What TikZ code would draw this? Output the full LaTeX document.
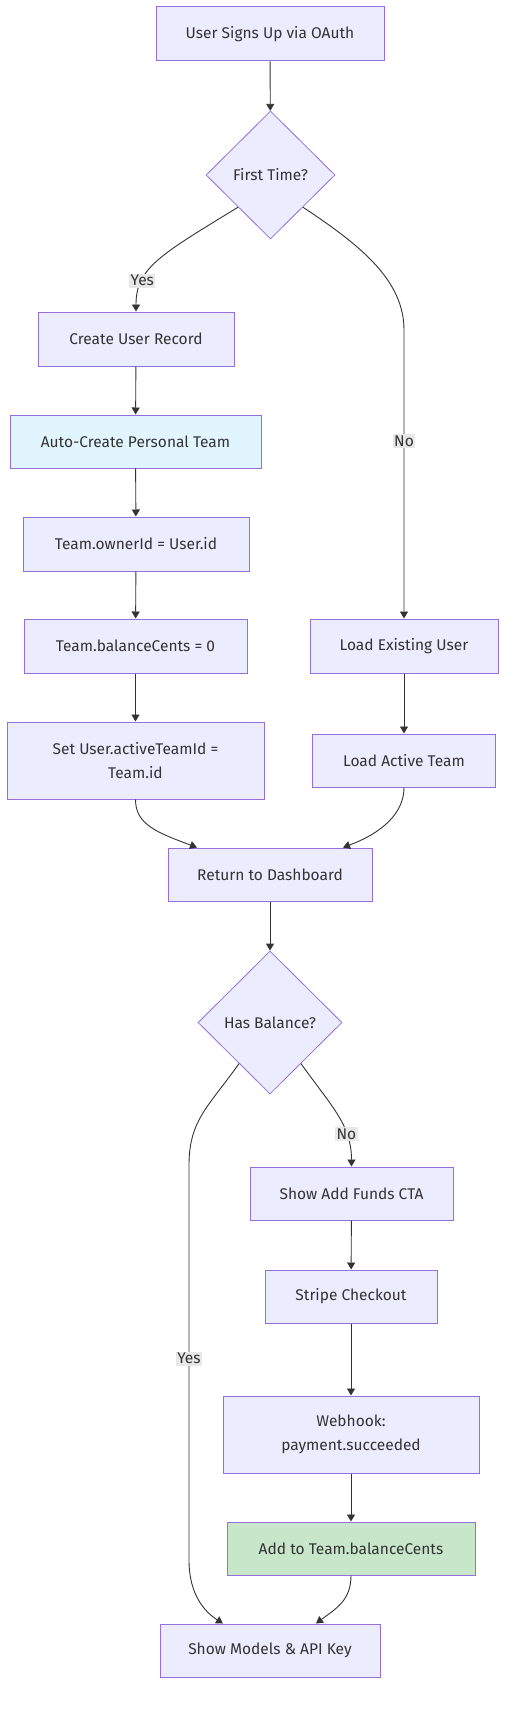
\documentclass[tikz,border=0pt]{standalone}
\usepackage{fontspec}
\setmainfont{Fira Sans}
\definecolor{mmFill}{HTML}{ECECFF}
\definecolor{mmBorder}{HTML}{9370DB}
\definecolor{mmText}{HTML}{333333}
\definecolor{mmEdge}{HTML}{333333}
\definecolor{mmCyan}{HTML}{E1F5FE}
\definecolor{mmGreen}{HTML}{C8E6C9}
\definecolor{mmLabel}{HTML}{E8E8E8}
\usetikzlibrary{shapes.geometric, arrows.meta, positioning, calc}
\tikzset{
  procbox/.style={rectangle, draw=mmBorder, line width=1pt, fill=#1, text=mmText, minimum height=54pt, align=center, font=\fontsize{15.5}{23.5}\selectfont, inner sep=0pt},
  procbox/.default=mmFill,
  decision/.style={diamond, aspect=1, draw=mmBorder, line width=0.8pt, fill=mmFill, text=mmText, inner sep=0pt, font=\fontsize{15.5}{23.5}\selectfont},
  flowarrow/.style={-{Triangle[length=7pt, width=8pt]}, line width=0.9pt, mmEdge},
  edgelabel/.style={fill=mmLabel, text=mmText, inner sep=1.5pt, font=\fontsize{15.5}{18}\selectfont},
}

\begin{document}
\begin{tikzpicture}[x=1pt, y=1pt]
  \useasboundingbox (0,0) rectangle (514,-1712);

  % left branch: new user
  \node[procbox, minimum width=228pt] (signup) at (270, -34) {User Signs Up via OAuth};
  \node[decision, minimum width=129pt, minimum height=128pt] (first) at (270.5, -175) {First Time?};
  \node[procbox, minimum width=196pt] (create) at (136, -339) {Create User Record};
  \node[procbox=mmCyan, minimum width=251pt, minimum height=53pt] (autoteam) at (135.5, -441.5) {Auto-Create Personal Team};
  \node[procbox, minimum width=226pt] (owner) at (136, -544) {Team.ownerId = User.id};
  \node[procbox, minimum width=223pt] (zerobal) at (135.5, -646) {Team.balanceCents = 0};
  \node[procbox, minimum width=257pt, minimum height=77pt] (setactive) at (135.5, -760.5) {Set User.activeTeamId =\\Team.id};

  % right branch: returning user
  \node[procbox, minimum width=188pt] (loaduser) at (404, -646) {Load Existing User};
  \node[procbox, minimum width=183pt, minimum height=53pt] (loadteam) at (404, -760.5) {Load Active Team};

  \node[procbox, minimum width=204pt, minimum height=53pt] (dash) at (270, -874.5) {Return to Dashboard};
  \node[decision, minimum width=144pt, minimum height=143pt] (hasbal) at (270, -1022.5) {Has Balance?};

  % funding path
  \node[procbox, minimum width=203pt, minimum height=53pt] (funds) at (351.5, -1193.5) {Show Add Funds CTA};
  \node[procbox, minimum width=172pt, minimum height=53pt] (stripe) at (351, -1296.5) {Stripe Checkout};
  \node[procbox, minimum width=256pt, minimum height=77pt] (webhook) at (351, -1434.5) {Webhook:\\payment.succeeded};
  \node[procbox=mmGreen, minimum width=248pt, minimum height=53pt] (addbal) at (351, -1548.5) {Add to Team.balanceCents};
  \node[procbox, minimum width=220pt, minimum height=53pt] (models) at (270, -1650.5) {Show Models \& API Key};

  \coordinate (noturn) at (loaduser.north |- 0,-330);
  \coordinate (yestop) at (189, -1165);
  \coordinate (yesbot) at (189, -1560);

  \draw[flowarrow] (signup) -- (first);
  \draw[flowarrow] (first.south west) .. controls (160,-255) and (136,-268) .. node[edgelabel, pos=0.72] {Yes} (create.north);
  \draw[flowarrow] (first.south east) .. controls (360,-245) and (404,-280) .. (noturn) -- node[edgelabel, pos=0.385] {No} (loaduser.north);
  \draw[flowarrow] (create) -- (autoteam);
  \draw[flowarrow] (autoteam) -- (owner);
  \draw[flowarrow] (owner) -- (zerobal);
  \draw[flowarrow] (zerobal) -- (setactive);
  \draw[flowarrow] (loaduser) -- (loadteam);
  \draw[flowarrow] (setactive.south) .. controls +(0,-25) and +(-40,15) .. ([xshift=-73pt]dash.north);
  \draw[flowarrow] (loadteam.south) .. controls +(0,-25) and +(40,15) .. ([xshift=73pt]dash.north);
  \draw[flowarrow] (dash) -- (hasbal);
  \draw[flowarrow] (hasbal.233) .. controls (209,-1106) and (189,-1120) .. (yestop) -- node[edgelabel, pos=0.49] {Yes} (yesbot) .. controls (189,-1595) and (205,-1612) .. ([xshift=-47pt]models.north);
  \draw[flowarrow] (hasbal.-53) .. controls (332,-1107) and (351.5,-1125) .. node[edgelabel, pos=0.7] {No} (funds.north);
  \draw[flowarrow] (funds) -- (stripe);
  \draw[flowarrow] (stripe) -- (webhook);
  \draw[flowarrow] (webhook) -- (addbal);
  \draw[flowarrow] (addbal.south) .. controls +(0,-25) and +(20,15) .. ([xshift=46pt]models.north);
\end{tikzpicture}
\end{document}
